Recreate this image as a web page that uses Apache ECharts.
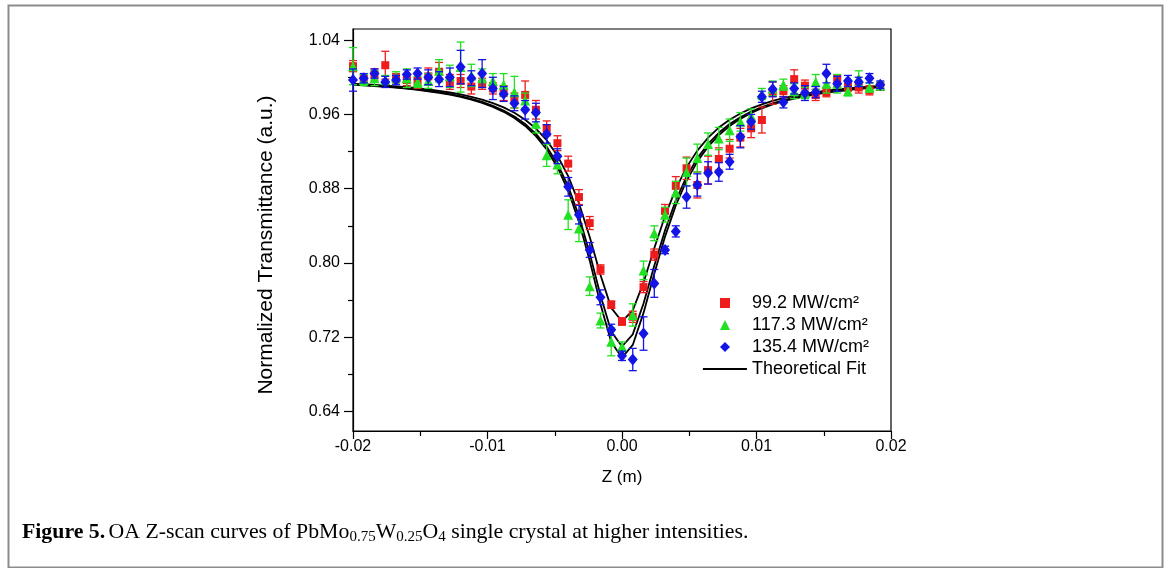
<!DOCTYPE html>
<html>
<head>
<meta charset="utf-8">
<title>OA Z-scan</title>
<script src="https://cdn.jsdelivr.net/npm/echarts@6/dist/echarts.min.js"></script>
<style>
  html, body { margin: 0; padding: 0; background: #fff; }
  #main { width: 1165px; height: 568px; }
</style>
</head>
<body>
<div id="main"></div>
<script>
// Z positions (m), 0.8 mm steps
var zPos = [-0.0200, -0.0192, -0.0184, -0.0176, -0.0168, -0.0160, -0.0152, -0.0144, -0.0136, -0.0128,
  -0.0120, -0.0112, -0.0104, -0.0096, -0.0088, -0.0080, -0.0072, -0.0064, -0.0056, -0.0048,
  -0.0040, -0.0032, -0.0024, -0.0016, -0.0008, 0.0000, 0.0008, 0.0016, 0.0024, 0.0032,
  0.0040, 0.0048, 0.0056, 0.0064, 0.0072, 0.0080, 0.0088, 0.0096, 0.0104, 0.0112,
  0.0120, 0.0128, 0.0136, 0.0144, 0.0152, 0.0160, 0.0168, 0.0176, 0.0184, 0.0192];

var seriesNames = ['99.2 MW/cm²', '117.3 MW/cm²', '135.4 MW/cm²', 'Theoretical Fit'];

// measured transmittance
var t992 = [1.012, 0.998, 1.003, 1.013, 0.999, 0.997, 0.996, 1.001, 1.006, 0.995,
  0.996, 0.990, 0.993, 0.988, 0.983, 0.975, 0.981, 0.965, 0.945, 0.929,
  0.907, 0.871, 0.843, 0.793, 0.755, 0.737, 0.742, 0.774, 0.809, 0.856,
  0.883, 0.902, 0.884, 0.900, 0.912, 0.923, 0.935, 0.945, 0.954, 0.983,
  0.985, 0.998, 0.991, 0.981, 0.984, 0.996, 0.990, 0.989, 0.986, 0.990];
var e992 = [0.006, 0.004, 0.006, 0.015, 0.005, 0.006, 0.008, 0.009, 0.010, 0.008,
  0.007, 0.008, 0.006, 0.006, 0.008, 0.008, 0.015, 0.010, 0.008, 0.008,
  0.008, 0.008, 0.007, 0.005, 0.004, 0.004, 0.006, 0.006, 0.006, 0.007,
  0.010, 0.012, 0.014, 0.015, 0.012, 0.010, 0.010, 0.010, 0.014, 0.012,
  0.006, 0.010, 0.006, 0.006, 0.005, 0.006, 0.005, 0.006, 0.005, 0.004];

var t1173 = [1.012, 0.997, 0.999, 0.997, 1.000, 0.999, 0.995, 0.996, 1.007, 1.001,
  1.011, 1.002, 0.999, 0.996, 0.992, 0.984, 0.975, 0.950, 0.916, 0.906,
  0.852, 0.837, 0.775, 0.738, 0.715, 0.710, 0.744, 0.792, 0.832, 0.852,
  0.876, 0.898, 0.913, 0.928, 0.934, 0.943, 0.952, 0.958, 0.982, 0.988,
  0.992, 0.985, 0.983, 0.995, 0.993, 0.993, 0.985, 0.999, 0.989, 0.991];
var e1173 = [0.020, 0.006, 0.008, 0.005, 0.006, 0.010, 0.006, 0.008, 0.012, 0.012,
  0.027, 0.012, 0.010, 0.008, 0.012, 0.017, 0.008, 0.010, 0.012, 0.010,
  0.016, 0.014, 0.010, 0.008, 0.015, 0.005, 0.012, 0.010, 0.008, 0.008,
  0.012, 0.015, 0.015, 0.012, 0.012, 0.012, 0.010, 0.008, 0.006, 0.008,
  0.006, 0.008, 0.006, 0.008, 0.010, 0.010, 0.005, 0.008, 0.005, 0.004];

var t1354 = [0.997, 0.999, 1.004, 0.995, 0.997, 1.003, 1.004, 1.000, 0.998, 1.000,
  1.011, 0.999, 1.004, 0.988, 0.982, 0.972, 0.965, 0.962, 0.939, 0.915,
  0.882, 0.852, 0.814, 0.763, 0.728, 0.700, 0.696, 0.724, 0.778, 0.814,
  0.834, 0.871, 0.884, 0.897, 0.898, 0.909, 0.936, 0.952, 0.979, 0.987,
  0.973, 0.988, 0.983, 0.984, 1.004, 0.993, 0.996, 0.995, 0.999, 0.992];
var e1354 = [0.012, 0.005, 0.005, 0.006, 0.005, 0.005, 0.006, 0.008, 0.008, 0.010,
  0.018, 0.008, 0.015, 0.012, 0.008, 0.008, 0.010, 0.010, 0.010, 0.008,
  0.010, 0.010, 0.008, 0.008, 0.006, 0.005, 0.012, 0.018, 0.015, 0.004,
  0.006, 0.012, 0.012, 0.012, 0.010, 0.008, 0.012, 0.008, 0.006, 0.008,
  0.006, 0.006, 0.008, 0.006, 0.010, 0.008, 0.006, 0.005, 0.005, 0.004];

// theoretical fit curves
var fit992 = [0.9930, 0.9925, 0.9918, 0.9911, 0.9902, 0.9893, 0.9882, 0.9869, 0.9854, 0.9836,
  0.9815, 0.9790, 0.9759, 0.9722, 0.9676, 0.9618, 0.9543, 0.9448, 0.9322, 0.9156,
  0.8935, 0.8644, 0.8280, 0.7870, 0.7516, 0.7370, 0.7489, 0.7790, 0.8158, 0.8506,
  0.8798, 0.9030, 0.9210, 0.9349, 0.9458, 0.9543, 0.9610, 0.9665, 0.9709, 0.9745,
  0.9775, 0.9800, 0.9821, 0.9840, 0.9855, 0.9869, 0.9880, 0.9890, 0.9899, 0.9907];
var fit1173 = [0.9923, 0.9917, 0.9910, 0.9901, 0.9892, 0.9882, 0.9870, 0.9855, 0.9839, 0.9819,
  0.9796, 0.9768, 0.9735, 0.9693, 0.9642, 0.9578, 0.9497, 0.9391, 0.9253, 0.9069,
  0.8826, 0.8505, 0.8103, 0.7652, 0.7261, 0.7100, 0.7231, 0.7563, 0.7969, 0.8352,
  0.8675, 0.8930, 0.9129, 0.9282, 0.9402, 0.9496, 0.9570, 0.9630, 0.9679, 0.9719,
  0.9752, 0.9780, 0.9803, 0.9823, 0.9840, 0.9855, 0.9868, 0.9879, 0.9889, 0.9898];
var fit1354 = [0.9920, 0.9913, 0.9906, 0.9897, 0.9888, 0.9877, 0.9864, 0.9849, 0.9832, 0.9812,
  0.9788, 0.9759, 0.9724, 0.9681, 0.9628, 0.9561, 0.9476, 0.9366, 0.9222, 0.9031,
  0.8777, 0.8443, 0.8025, 0.7555, 0.7148, 0.6980, 0.7117, 0.7462, 0.7884, 0.8284,
  0.8620, 0.8886, 0.9092, 0.9253, 0.9377, 0.9475, 0.9552, 0.9615, 0.9666, 0.9707,
  0.9742, 0.9770, 0.9795, 0.9816, 0.9834, 0.9849, 0.9862, 0.9874, 0.9884, 0.9894];

var yTicks = [0.64, 0.72, 0.80, 0.88, 0.96, 1.04];
var yMinorTicks = [0.68, 0.76, 0.84, 0.92, 1.00];

var colors = ['#ee1c1c', '#22e022', '#1414e6'];
var font = 'Liberation Sans, Arial, sans-serif';
var serif = 'Liberation Serif, Times New Roman, serif';

function pairs(ys) {
  return zPos.map(function (z, i) { return [z, ys[i]]; });
}
function triples(ys, es) {
  return zPos.map(function (z, i) { return [z, ys[i], es[i]]; });
}

// vertical error bar with caps
function errorBar(color) {
  return function (params, api) {
    var x = api.value(0), y = api.value(1), e = api.value(2);
    var hi = api.coord([x, y + e]);
    var lo = api.coord([x, y - e]);
    var w = 4;
    var st = { stroke: color, lineWidth: 1.3, fill: null };
    return {
      type: 'group',
      children: [
        { type: 'line', shape: { x1: hi[0], y1: hi[1], x2: lo[0], y2: lo[1] }, style: st },
        { type: 'line', shape: { x1: hi[0] - w, y1: hi[1], x2: hi[0] + w, y2: hi[1] }, style: st },
        { type: 'line', shape: { x1: lo[0] - w, y1: lo[1], x2: lo[0] + w, y2: lo[1] }, style: st }
      ]
    };
  };
}

function fitLine(ys) {
  return {
    name: seriesNames[3], type: 'line', data: pairs(ys), symbol: 'none',
    lineStyle: { color: '#000', width: 1.8 }, itemStyle: { color: '#000' },
    z: 1, animation: false
  };
}

var chart = echarts.init(document.getElementById('main'), null, { renderer: 'canvas' });

var option = {
  backgroundColor: '#fff',
  animation: false,
  grid: { left: 353, right: 274, top: 29, bottom: 137, show: true, borderColor: '#000', borderWidth: 1.2, outerBoundsMode: 'none', containLabel: false },
  legend: [{
    // markers: small icons, text pushed right to line up with the fit entry
    orient: 'vertical', left: 715, top: 289, itemWidth: 10, itemHeight: 10, itemGap: 4,
    data: seriesNames.slice(0, 3),
    textStyle: { fontFamily: font, fontSize: 18, color: '#000', padding: [0, 0, 0, 17] }
  }, {
    orient: 'vertical', left: 697, top: 355, itemWidth: 44, itemHeight: 10,
    data: [seriesNames[3]],
    itemStyle: { opacity: 0 },
    lineStyle: { color: '#000', width: 1.8 },
    textStyle: { fontFamily: font, fontSize: 18, color: '#000', padding: [0, 0, 0, 0] }
  }],
  xAxis: {
    type: 'value', min: -0.02, max: 0.02, interval: 0.01,
    name: 'Z (m)', nameLocation: 'middle', nameGap: 38,
    nameTextStyle: { fontFamily: font, fontSize: 17, color: '#000' },
    axisLine: { onZero: false, lineStyle: { color: '#000', width: 1.2 } },
    axisTick: { show: true, inside: false, length: 8, lineStyle: { color: '#000', width: 1.2 } },
    minorTick: { show: true, splitNumber: 2, length: 5, lineStyle: { color: '#000', width: 1.2 } },
    splitLine: { show: false },
    axisLabel: {
      fontFamily: font, fontSize: 16, color: '#000', margin: 8,
      formatter: function (v) { return Math.abs(v) < 1e-9 ? '0.00' : v.toFixed(2); }
    }
  },
  yAxis: [{
    type: 'value', min: 0.619, max: 1.052,
    name: 'Normalized Transmittance (a.u.)', nameLocation: 'middle', nameGap: 76,
    nameTextStyle: { fontFamily: font, fontSize: 21, color: '#000', padding: [0, 30, 0, 0] },
    axisLine: { onZero: false, lineStyle: { color: '#000', width: 1.2 } },
    axisTick: { show: true, inside: false, length: 9, customValues: yTicks, lineStyle: { color: '#000', width: 1.2 } },
    splitLine: { show: false },
    axisLabel: {
      fontFamily: font, fontSize: 16, color: '#000', margin: 13, customValues: yTicks,
      formatter: function (v) { return v.toFixed(2); }
    }
  }, {
    // minor ticks only
    type: 'value', min: 0.619, max: 1.052, position: 'left',
    axisLine: { show: false, onZero: false },
    axisTick: { show: true, inside: false, length: 5, customValues: yMinorTicks, lineStyle: { color: '#000', width: 1.2 } },
    axisLabel: { show: false },
    splitLine: { show: false }
  }],
  series: [
    fitLine(fit992),
    fitLine(fit1173),
    fitLine(fit1354),
    { name: seriesNames[0] + ' err', type: 'custom', renderItem: errorBar(colors[0]), data: triples(t992, e992), encode: { x: 0, y: 1 }, z: 2 },
    { name: seriesNames[0], type: 'scatter', data: pairs(t992), symbol: 'rect', symbolSize: 8, itemStyle: { color: colors[0], opacity: 1 }, z: 3 },
    { name: seriesNames[1] + ' err', type: 'custom', renderItem: errorBar(colors[1]), data: triples(t1173, e1173), encode: { x: 0, y: 1 }, z: 4 },
    { name: seriesNames[1], type: 'scatter', data: pairs(t1173), symbol: 'triangle', symbolSize: 10, itemStyle: { color: colors[1], opacity: 1 }, z: 5 },
    { name: seriesNames[2] + ' err', type: 'custom', renderItem: errorBar(colors[2]), data: triples(t1354, e1354), encode: { x: 0, y: 1 }, z: 6 },
    { name: seriesNames[2], type: 'scatter', data: pairs(t1354), symbol: 'diamond', symbolSize: [10, 12], itemStyle: { color: colors[2], opacity: 1 }, z: 7 }
  ],
  graphic: [
    // outer frame of the figure
    { type: 'rect', left: 6, top: 3, shape: { width: 1154, height: 562 }, style: { fill: null, stroke: '#8c8c8c', lineWidth: 2 }, silent: true },
    {
      type: 'text', left: 22, top: 521, silent: true,
      style: {
        text: '{b|Figure 5.} {n|OA Z-scan curves of PbMo}{s|0.75}{n|W}{s|0.25}{n|O}{s|4}{n| single crystal at higher intensities.}',
        fill: '#000',
        rich: {
          b: { fontFamily: serif, fontSize: 21.8, fontWeight: 'bold', lineHeight: 26 },
          n: { fontFamily: serif, fontSize: 21.8, lineHeight: 26 },
          s: { fontFamily: serif, fontSize: 15, lineHeight: 15, verticalAlign: 'bottom' }
        }
      }
    }
  ]
};

chart.setOption(option);
</script>
</body>
</html>
